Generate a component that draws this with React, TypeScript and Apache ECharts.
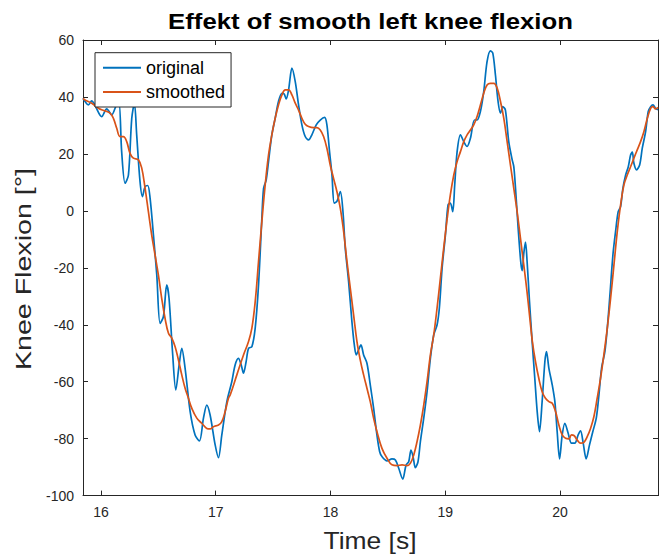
import React, { useEffect, useRef } from "react";
import * as echarts from "echarts";

const titleText = "Effekt of smooth left knee flexion";
const xLabel = "Time [s]";
const yLabel = "Knee Flexion [°]";
const seriesNames = ["original", "smoothed"];

const origT = [
  15.843, 15.861, 15.89, 15.919, 15.948, 16.006, 16.05, 16.093, 16.137, 16.157, 16.18, 16.21, 16.239, 16.268, 16.291,
  16.311, 16.34, 16.361, 16.384, 16.407, 16.428, 16.457, 16.486, 16.515, 16.544, 16.573, 16.593, 16.623, 16.652, 16.681,
  16.704, 16.733, 16.777, 16.82, 16.858, 16.893, 16.922, 16.951, 16.995, 17.024, 17.053, 17.097, 17.14, 17.169, 17.198,
  17.222, 17.242, 17.265, 17.286, 17.315, 17.344, 17.373, 17.402, 17.417, 17.44, 17.46, 17.489, 17.518, 17.547, 17.577,
  17.597, 17.614, 17.635, 17.664, 17.693, 17.722, 17.751, 17.78, 17.809, 17.838, 17.876, 17.911, 17.949, 17.969, 17.992,
  18.013, 18.033, 18.056, 18.086, 18.109, 18.129, 18.158, 18.187, 18.208, 18.225, 18.245, 18.266, 18.289, 18.318, 18.347,
  18.376, 18.405, 18.429, 18.449, 18.493, 18.536, 18.566, 18.595, 18.63, 18.659, 18.682, 18.702, 18.72, 18.74, 18.763,
  18.784, 18.813, 18.842, 18.871, 18.9, 18.929, 18.949, 18.973, 19.002, 19.025, 19.045, 19.066, 19.083, 19.104, 19.133,
  19.162, 19.191, 19.22, 19.255, 19.278, 19.307, 19.336, 19.365, 19.394, 19.415, 19.438, 19.461, 19.482, 19.502, 19.525,
  19.554, 19.584, 19.598, 19.613, 19.636, 19.66, 19.672, 19.685, 19.7, 19.714, 19.735, 19.758, 19.781, 19.802, 19.822,
  19.845, 19.869, 19.883, 19.904, 19.933, 19.956, 19.976, 19.997, 20.02, 20.043, 20.072, 20.101, 20.13, 20.159, 20.18,
  20.203, 20.229, 20.258, 20.287, 20.317, 20.34, 20.363, 20.392, 20.413, 20.436, 20.462, 20.485, 20.508, 20.529, 20.549,
  20.573, 20.596, 20.616, 20.631, 20.645, 20.668, 20.695, 20.718, 20.747, 20.77, 20.791, 20.811, 20.834, 20.855,
];
const origV = [
  39.5, 38.4, 37.2, 38.6, 37.0, 33.1, 35.8, 33.7, 37.4, 37.8, 20.8, 9.7, 12.6, 32.5, 37.8,
  26.7, 10.3, 5.0, 8.5, 8.9, 4.4, -8.5, -22.5, -39.5, -37.1, -26.0, -30.7, -49.4, -62.9, -54.1,
  -48.3, -55.3, -70.5, -78.7, -80.8, -72.8, -68.2, -71.7, -82.2, -86.7, -78.7, -67.0, -60.0, -54.1, -51.8,
  -54.1, -57.0, -52.9, -48.3, -47.7, -41.2, -26.0, -2.6, 7.9, 10.9, 17.3, 26.7, 32.5, 38.4, 41.3,
  41.0, 39.3, 42.5, 50.1, 45.4, 37.2, 30.2, 26.1, 24.9, 26.7, 30.2, 31.9, 32.8, 30.2, 20.8,
  12.6, 2.7, 3.3, 6.8, -0.3, -13.1, -24.8, -38.9, -47.1, -50.6, -48.8, -47.1, -50.6, -53.5, -61.1,
  -69.3, -78.7, -84.6, -86.3, -87.8, -87.1, -87.5, -90.4, -94.2, -89.3, -88.1, -84.0, -86.3, -90.2, -88.1,
  -81.0, -72.8, -63.5, -51.8, -43.6, -40.1, -34.2, -20.2, -8.5, 2.1, 2.7, -0.3, 9.1, 20.8, 26.7,
  24.3, 22.6, 25.5, 31.9, 31.9, 34.9, 41.9, 52.4, 56.2, 55.4, 47.7, 38.4, 34.3, 36.6, 35.4,
  24.3, 17.9, 15.5, 7.9, -6.1, -18.5, -21.0, -15.0, -11.0, -17.8, -31.9, -45.9, -58.8, -70.5, -77.5,
  -67.0, -52.9, -49.4, -55.3, -61.1, -67.0, -77.5, -87.1, -78.7, -74.6, -78.1, -81.6, -81.6, -78.7, -77.3,
  -81.6, -87.1, -82.2, -77.5, -72.8, -64.7, -55.3, -49.4, -41.2, -29.5, -15.5, -7.3, -0.3, 1.5, 7.9,
  12.6, 15.5, 19.6, 20.6, 16.7, 14.4, 16.1, 22.0, 27.8, 34.9, 36.6, 37.2, 36.0, 35.5,
];

const smoothT = [
  15.843, 15.861, 15.919, 15.977, 16.035, 16.079, 16.108, 16.137, 16.166, 16.195, 16.224, 16.253, 16.282, 16.326, 16.355,
  16.384, 16.413, 16.442, 16.471, 16.5, 16.529, 16.558, 16.588, 16.617, 16.646, 16.675, 16.704, 16.733, 16.762, 16.791,
  16.835, 16.878, 16.922, 16.951, 16.98, 17.024, 17.053, 17.082, 17.111, 17.126, 17.184, 17.242, 17.286, 17.315, 17.344,
  17.373, 17.402, 17.431, 17.46, 17.489, 17.518, 17.547, 17.577, 17.606, 17.635, 17.664, 17.693, 17.722, 17.751, 17.78,
  17.809, 17.853, 17.882, 17.911, 17.94, 17.969, 17.998, 18.027, 18.056, 18.086, 18.115, 18.144, 18.173, 18.202, 18.231,
  18.26, 18.289, 18.318, 18.347, 18.376, 18.405, 18.449, 18.493, 18.536, 18.58, 18.624, 18.667, 18.696, 18.726, 18.755,
  18.784, 18.813, 18.842, 18.871, 18.9, 18.929, 18.958, 18.987, 19.016, 19.045, 19.075, 19.104, 19.133, 19.162, 19.191,
  19.22, 19.249, 19.278, 19.307, 19.336, 19.365, 19.394, 19.424, 19.453, 19.482, 19.511, 19.54, 19.569, 19.598, 19.627,
  19.656, 19.685, 19.71, 19.735, 19.76, 19.787, 19.816, 19.845, 19.874, 19.904, 19.933, 19.962, 19.991, 20.02, 20.049,
  20.078, 20.101, 20.122, 20.151, 20.18, 20.209, 20.238, 20.267, 20.296, 20.325, 20.354, 20.383, 20.413, 20.442, 20.471,
  20.5, 20.529, 20.558, 20.587, 20.616, 20.645, 20.674, 20.703, 20.732, 20.762, 20.791, 20.811, 20.834, 20.855,
];
const smoothV = [
  39.5, 38.9, 37.8, 36.0, 35.1, 34.3, 32.5, 29.0, 26.1, 26.1, 24.3, 20.2, 18.5, 17.9, 15.0,
  8.0, -0.3, -8.5, -15.5, -22.5, -30.7, -37.7, -43.0, -44.7, -47.7, -52.4, -57.6, -62.3, -65.8, -69.3,
  -72.8, -74.6, -76.4, -76.6, -75.8, -75.2, -74.0, -70.5, -65.8, -64.7, -57.6, -50.6, -45.9, -41.2, -31.9,
  -17.8, -3.8, 9.1, 19.6, 26.7, 32.5, 37.2, 40.7, 42.5, 42.5, 40.7, 37.8, 35.4, 32.5, 30.4,
  29.6, 29.2, 29.2, 28.4, 26.1, 22.0, 16.1, 11.4, 6.8, 0.9, -7.3, -17.8, -27.2, -36.6, -45.9,
  -52.4, -57.6, -62.3, -67.0, -72.8, -77.5, -83.4, -86.9, -89.2, -89.5, -89.2, -89.5, -88.7, -85.7, -81.0,
  -75.2, -68.2, -60.0, -50.6, -43.6, -34.2, -23.7, -13.1, -3.2, 5.6, 12.6, 17.3, 20.8, 24.3, 26.7,
  28.4, 30.2, 33.1, 37.2, 41.3, 44.2, 44.8, 44.8, 43.1, 38.4, 32.5, 24.3, 16.1, 7.9, -0.3,
  -9.6, -19.0, -27.2, -36.6, -45.9, -52.9, -58.8, -63.5, -65.8, -67.0, -67.6, -70.5, -75.2, -78.7, -79.9,
  -80.1, -78.7, -78.9, -80.5, -81.6, -81.3, -79.3, -76.4, -72.3, -65.8, -58.8, -50.6, -41.2, -30.7, -19.0,
  -7.3, 2.1, 9.1, 12.6, 15.5, 18.5, 21.4, 24.3, 27.8, 32.5, 36.0, 36.6, 35.8, 36.3,
];

const xMin = 15.843;
const xMax = 20.855;
const yMin = -100;
const yMax = 60;
const yStep = 20;

const FONT = "'Liberation Sans', Arial, Helvetica, sans-serif";
const AX = "#262626";

export default function App() {
  const ref = useRef<HTMLDivElement>(null);
  useEffect(() => {
    if (!ref.current) return;
    const chart = echarts.init(ref.current, null, { renderer: "svg" });
    const grid = { left: 83, right: 4, top: 40, bottom: 61.4 };
    const axisCommon = {
      axisLine: { show: true, onZero: false, lineStyle: { color: AX, width: 1 } },
      axisTick: { show: true, inside: true, length: 5, lineStyle: { color: AX, width: 1 } },
      splitLine: { show: false },
    };
    const textStyleCenter = (font: string, fill: string) => ({
      font,
      fill,
      align: "center",
      verticalAlign: "middle",
      textAlign: "center",
      textVerticalAlign: "middle",
    });
    chart.setOption({
      animation: false,
      backgroundColor: "#ffffff",
      textStyle: { fontFamily: FONT },
      grid,
      legend: {
        left: 95,
        top: 52.7,
        orient: "vertical",
        data: seriesNames,
        icon: "rect",
        backgroundColor: "#ffffff",
        borderColor: AX,
        borderWidth: 1,
        borderRadius: 0,
        padding: [5, 6, 5, 8],
        itemWidth: 38,
        itemHeight: 2,
        itemGap: 4.3,
        textStyle: { fontSize: 18, color: "#000", fontFamily: FONT, lineHeight: 20 },
      },
      xAxis: [
        {
          type: "value",
          min: xMin,
          max: xMax,
          position: "bottom",
          ...axisCommon,
          axisLabel: {
            showMinLabel: false,
            showMaxLabel: false,
            color: AX,
            fontSize: 14,
            margin: 9,
            fontFamily: FONT,
            formatter: (v: number) => (Math.abs(v - Math.round(v)) < 1e-6 ? String(Math.round(v)) : ""),
          },
        },
        {
          type: "value",
          min: xMin,
          max: xMax,
          position: "top",
          ...axisCommon,
          axisLabel: { show: false },
        },
      ],
      yAxis: [
        {
          type: "value",
          min: yMin,
          max: yMax,
          interval: yStep,
          position: "left",
          ...axisCommon,
          axisLabel: { color: AX, fontSize: 14, margin: 9, fontFamily: FONT },
        },
        {
          type: "value",
          min: yMin,
          max: yMax,
          interval: yStep,
          position: "right",
          ...axisCommon,
          axisLabel: { show: false },
        },
      ],
      series: [
        {
          name: seriesNames[0],
          type: "line",
          data: origT.map((t, i) => [t, origV[i]]),
          symbol: "none",
          smooth: 0.3,
          lineStyle: { color: "#0072BD", width: 1.7 },
          itemStyle: { color: "#0072BD" },
          z: 2,
        },
        {
          name: seriesNames[1],
          type: "line",
          data: smoothT.map((t, i) => [t, smoothV[i]]),
          symbol: "none",
          smooth: 0.4,
          lineStyle: { color: "#D95319", width: 1.7 },
          itemStyle: { color: "#D95319" },
          z: 3,
        },
      ],
      graphic: [
        {
          type: "text",
          x: 370.5,
          y: 21,
          scaleX: 1.12,
          style: { text: titleText, ...textStyleCenter(`bold 23px ${FONT}`, "#000") },
        },
        {
          type: "text",
          x: 370,
          y: 541,
          scaleX: 1.15,
          style: { text: xLabel, ...textStyleCenter(`23px ${FONT}`, AX) },
        },
        {
          type: "text",
          x: 23.5,
          y: 269,
          rotation: Math.PI / 2,
          scaleX: 1.3,
          style: { text: yLabel, ...textStyleCenter(`22px ${FONT}`, AX) },
        },
      ],
    });
    return () => chart.dispose();
  }, []);
  return <div ref={ref} style={{ position: "fixed", left: 0, top: 0, width: 662, height: 557 }} />;
}
